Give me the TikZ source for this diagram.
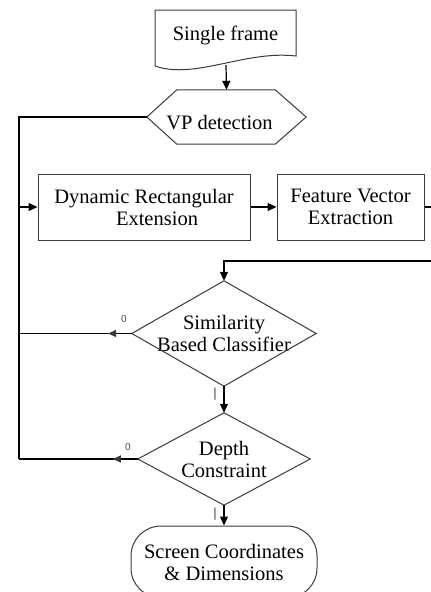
\documentclass[tikz,border=0pt]{standalone}
\usepackage{fontspec}
\setmainfont{Liberation Serif}
\newfontfamily\labelfont{Liberation Sans}
\usetikzlibrary{arrows.meta,calc,decorations.markings}
\definecolor{bordergray}{HTML}{3A3A3A}
\definecolor{labelgray}{HTML}{444444}
\begin{document}
\begin{tikzpicture}[x=1pt,y=-1pt,
  font=\fontsize{20.5}{22}\selectfont,
  border/.style={draw=bordergray,line width=1pt},
  holder/.style={inner sep=0pt,align=center},
  box/.style={holder,border},
  plain/.style={line width=1.2pt},
  flow/.style={plain,-{Triangle[length=9pt,width=8pt]}},
  backarrow/.style={plain,postaction={decorate},
    decoration={markings,mark=at position 0.21 with
      {\arrow[bordergray]{Triangle[length=8pt,width=7pt]}}}},
  branch/.style={font=\labelfont\fontsize{10}{10}\selectfont,text=labelgray,inner sep=0pt},
  branchbar/.style={branch,font=\labelfont\fontsize{13}{13}\selectfont}]
\useasboundingbox (0,0) rectangle (431,592);

% input document
\node[holder,minimum width=141pt,minimum height=50pt] (frame) at (225.5,35) {Single frame};
\draw[border] (155,66) -- (155,10) -- (296,10) -- (296,56)
  .. controls (245,50) and (195,80) .. cycle;
\coordinate (framefoot) at (226,65);

% preparation (hexagon)
\node[holder,minimum width=159pt,minimum height=54pt,text height=24pt,text depth=0pt] (vp)
  at (226.5,117) {VP detection\hspace*{14pt}};
\draw[border] (vp.west) -- ($(vp.north west)+(30,0)$) -- ($(vp.north east)+(-31,0)$)
  -- (vp.east) -- ($(vp.south east)+(-31,0)$) -- ($(vp.south west)+(30,0)$) -- cycle;

% processing steps
\node[box,minimum width=212pt,minimum height=66pt] (dre) at (144,207)
  {Dynamic Rectangular\\\hspace*{26pt}Extension};
\node[box,minimum width=147pt,minimum height=66pt] (fve) at (350.5,207)
  {Feature Vector\\Extraction};

% decisions
\node[holder,minimum width=184pt,minimum height=105pt] (sim) at (224,333.5)
  {Similarity\\Based Classifier};
\draw[border] (sim.north) -- (sim.east) -- (sim.south) -- (sim.west) -- cycle;
\node[holder,minimum width=172pt,minimum height=92pt] (depth) at (224,459)
  {Depth\\Constraint};
\draw[border] (depth.north) -- (depth.east) -- (depth.south) -- (depth.west) -- cycle;

% output terminal
\node[box,minimum width=186pt,minimum height=72pt,rounded corners=30pt] (term) at (224,562)
  {Screen Coordinates\\\& Dimensions};

% rails of the loops
\coordinate (railtop) at (19,117);
\coordinate (railbot) at (19,459);
\coordinate (loopR) at (438,261);

% connectors
\draw[flow] (framefoot) -- (vp.north);
\draw[plain] (vp.west) -- (railtop) -- (railbot);
\draw[flow] (railtop |- dre.west) -- (dre.west);
\draw[flow] (dre.east) -- (fve.west);
\draw[flow] (fve.east) -| (loopR) -| (sim.north);
\draw[backarrow] (sim.west) -- (sim.west -| railtop);
\draw[backarrow] (depth.west) -- (railbot);
\draw[flow] (sim.south) -- (depth.north);
\draw[flow] (depth.south) -- (term.north);

% branch labels
\node[branch] (s0) at (124,319) {0};
\node[branch] (d0) at (128,447) {0};
\node[branchbar] (s1) at (215,394) {|};
\node[branchbar] (d1) at (215,514) {|};
\end{tikzpicture}
\end{document}
